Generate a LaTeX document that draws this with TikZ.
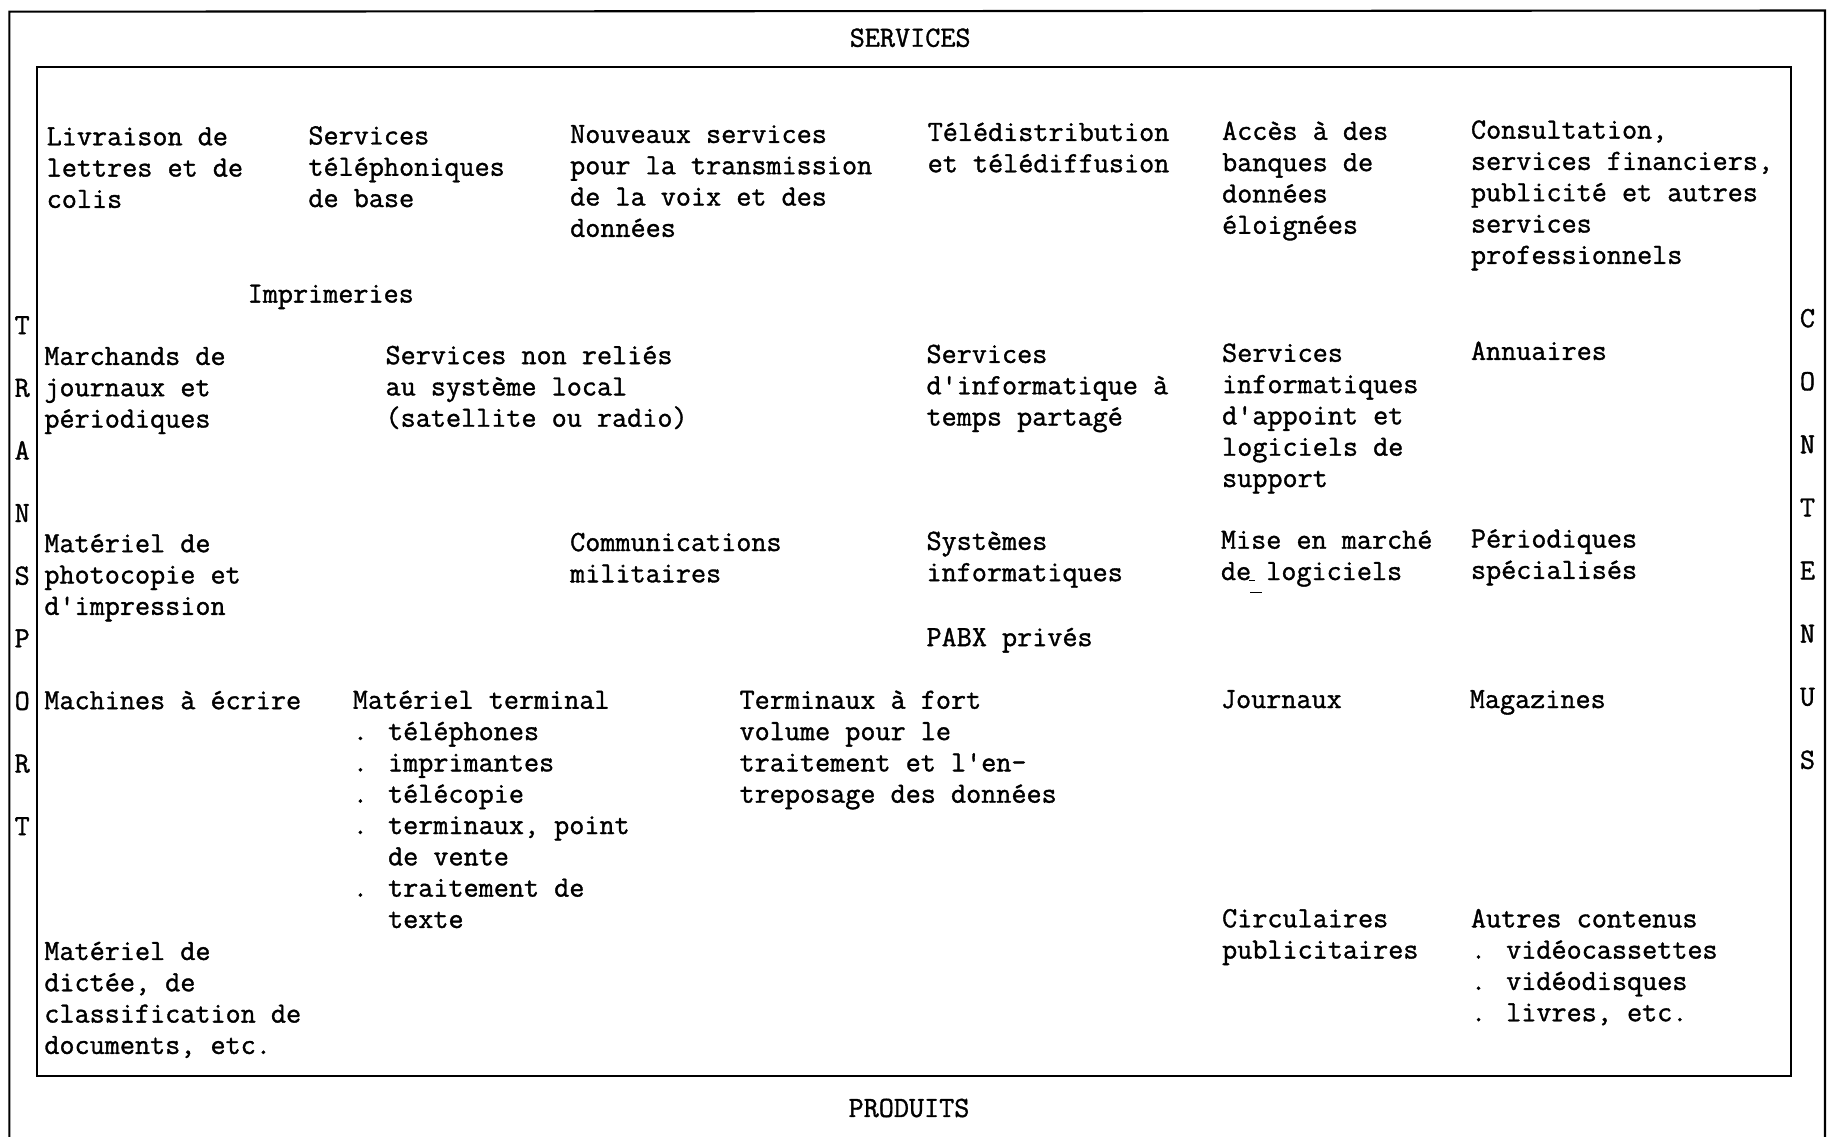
\documentclass[tikz,border=0pt]{standalone}
\usepackage{fontspec}
\newfontfamily\twfont{Latin Modern Mono}[FakeBold=1.2]
\tikzset{
  frame/.style={line width=1.8pt, draw=black},
  txt/.style={anchor=north west, yshift=16pt, inner sep=0pt, outer sep=0pt, align=left,
    execute at begin node={\rule{0pt}{20pt}},
    font=\twfont\fontsize{25.1}{26.8}\selectfont},
  one/.style={txt, yshift=4pt},
  lbl/.style={anchor=base, inner sep=0pt, outer sep=0pt,
    font=\twfont\fontsize{25.1}{26.8}\selectfont},
  tick/.style={line width=1.2pt},
}
\newcommand{\bsp}{\phantom{. }}
\begin{document}
\begin{tikzpicture}[x=1pt,y=-1pt]
\useasboundingbox (0,0) rectangle (1568,973);
% frames
\coordinate (obl) at (8,973);
\coordinate (otl) at (8,10);
\coordinate (otr) at (1562,9);
\coordinate (obr) at (1562,973);
\draw[frame] (obl) -- (otl) -- (otr) -- (obr);
\coordinate (itl) at (32,57);
\coordinate (ibr) at (1533,921);
\draw[frame] (itl) rectangle (ibr);
% axis labels
\node[lbl] (services) at (779,40) {SERVICES};
\node[lbl] (produits) at (778,956) {PRODUITS};
\foreach \l [count=\i from 0] in {T,R,A,N,S,P,O,R,T}
  \node[lbl] (tr\i) at (19,286+53.6*\i) {\l};
\foreach \l [count=\i from 0] in {C,O,N,T,E,N,U,S}
  \node[lbl] (co\i) at (1547,280+54*\i) {\l};
% row 1
\node[txt] (livraison) at (40,125) {Livraison de\\lettres et de\\colis};
\node[txt] (telbase) at (264,124) {Services\\téléphoniques\\de base};
\node[txt] (nouveaux) at (488,123) {Nouveaux services\\pour la transmission\\de la voix et des\\données};
\node[txt] (teledist) at (794,121) {Télédistribution\\et télédiffusion};
\node[txt] (acces) at (1046,120) {Accès à des\\banques de\\données\\éloignées};
\node[txt] (consult) at (1259,119) {Consultation,\\services financiers,\\publicité et autres\\services\\professionnels};
\node[one] (imprim) at (212,259) {Imprimeries};
% row 2
\node[txt] (marchands) at (38,313) {Marchands de\\journaux et\\périodiques};
\node[txt] (nonrelies) at (330,312) {Services non reliés\\au système local\\(satellite ou radio)};
\node[txt] (tempspart) at (793,311) {Services\\d'informatique à\\temps partagé};
\node[txt] (appoint) at (1046,310) {Services\\informatiques\\d'appoint et\\logiciels de\\support};
\node[one] (annuaires) at (1259,308) {Annuaires};
% row 3
\node[txt] (photocop) at (38,473) {Matériel de\\photocopie et\\d'impression};
\node[txt] (militaires) at (488,472) {Communications\\militaires};
\node[txt] (systemes) at (793,471) {Systèmes\\informatiques};
\node[txt] (marche) at (1045,470) {Mise en marché\\de logiciels};
\coordinate (ua1) at (1069,497);
\coordinate (ua2) at (1074,497);
\draw[tick] (ua1) -- (ua2);
\coordinate (us1) at (1070,507);
\coordinate (us2) at (1080,507);
\draw[tick] (us1) -- (us2);
\node[txt] (periodiques) at (1259,469) {Périodiques\\spécialisés};
\node[one] (pabx) at (793,553) {PABX privés};
% row 4
\node[one] (machines) at (38,607) {Machines à écrire};
\node[txt] (terminal) at (302,607) {Matériel terminal\\. téléphones\\. imprimantes\\. télécopie\\. terminaux, point\\\bsp de vente\\. traitement de\\\bsp texte};
\node[txt] (volume) at (633,607) {Terminaux à fort\\volume pour le\\traitement et l'en-\\treposage des données};
\node[one] (journaux) at (1045,606) {Journaux};
\node[one] (magazines) at (1258,606) {Magazines};
% row 5
\node[txt] (circulaires) at (1046,794) {Circulaires\\publicitaires};
\node[txt] (autres) at (1259,794) {Autres contenus\\. vidéocassettes\\. vidéodisques\\. livres, etc.};
\node[txt] (dictee) at (38,822) {Matériel de\\dictée, de\\classification de\\documents, etc.};
\end{tikzpicture}
\end{document}
